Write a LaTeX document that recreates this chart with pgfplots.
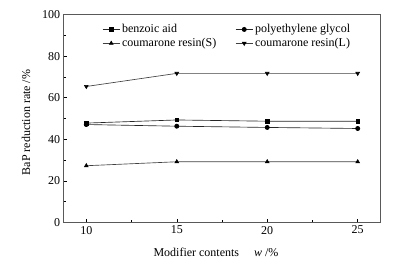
\documentclass[border=0pt]{standalone}
\usepackage{fontspec}
\setmainfont{Liberation Serif}
\usepackage{pgfplots}
\pgfplotsset{compat=1.18}
\begin{document}
\begin{tikzpicture}
\begin{axis}[
  scale only axis,
  width=316.6pt, height=208pt,
  at={(0,0)}, anchor=south west,
  xmin=8.75, xmax=26.25, ymin=0, ymax=100,
  xtick={10,15,20,25}, minor xtick={12.5,17.5,22.5},
  ytick={0,20,40,60,80,100}, minor ytick={10,30,50,70,90},
  tick align=inside, xtick pos=bottom, ytick pos=left,
  major tick length=3.5pt, minor tick length=2.5pt,
  axis line style={gray!70!black, line width=0.5pt},
  tick style={black, line width=0.5pt},
  /pgf/number format/assume math mode=true,
  tick label style={font=\fontsize{12pt}{14pt}\selectfont},
  label style={font=\fontsize{12pt}{14pt}\selectfont},
  xlabel={Modifier contents\quad\ \textit{w} /\%},
  ylabel={BaP reduction rate /\%},
  xlabel style={yshift=-7pt, xshift=-6pt},
  ylabel style={yshift=5pt, xshift=-4pt},
  legend columns=2,
  legend style={at={(0.112,0.972)}, anchor=north west, draw=none, fill=none,
    font=\fontsize{12pt}{14pt}\selectfont, row sep=0pt,
    /tikz/every even column/.append style={column sep=17pt}},
  legend cell align=left,
  every axis plot/.append style={line width=0.65pt, mark size=2.1pt},
]
\addplot[black!85, mark=square*, mark options={black, fill=black, scale=0.85}] coordinates {(10,47.8) (15,49.3) (20,48.7) (25,48.7)};
\addlegendentry{benzoic aid}
\addplot[black!85, mark=*, mark options={black, fill=black}] coordinates {(10,47.1) (15,46.3) (20,45.7) (25,45.2)};
\addlegendentry{polyethylene glycol}
\addplot[black!75, mark=triangle*, mark options={black, fill=black}] coordinates {(10,27.3) (15,29.2) (20,29.2) (25,29.2)};
\addlegendentry{coumarone resin(S)}
\addplot[black!75, mark=triangle*, mark options={black, fill=black, rotate=180}] coordinates {(10,65.4) (15,71.7) (20,71.7) (25,71.7)};
\addlegendentry{coumarone resin(L)}
\end{axis}
\path[use as bounding box] (-63.7pt,-40.7pt) rectangle (337.3pt,222.5pt);
\end{tikzpicture}
\end{document}
